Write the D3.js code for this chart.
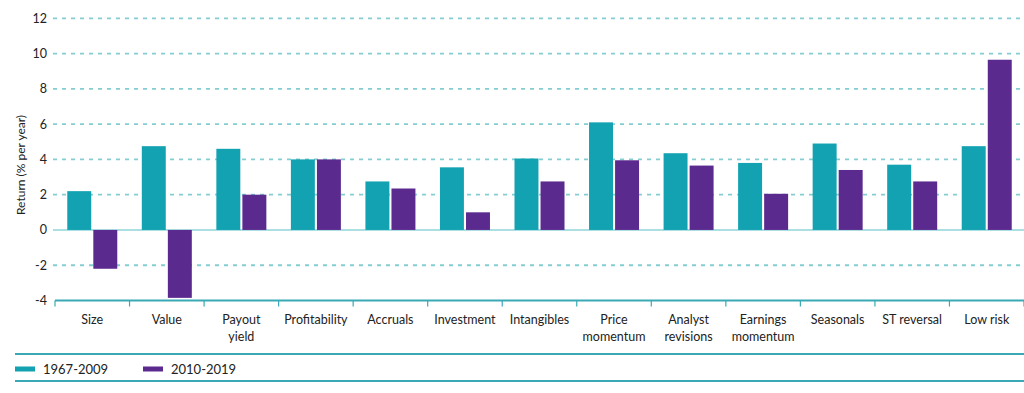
<!DOCTYPE html>
<html><head><meta charset="utf-8">
<script src="https://cdn.jsdelivr.net/npm/d3@7"></script>
<style>
html,body{margin:0;padding:0;background:#fff;}
svg{display:block;font-family:Lato,"Liberation Sans",sans-serif;}
</style></head>
<body><svg id="c" width="1024" height="393"></svg>
<script>
const categories = [["Size"],["Value"],["Payout","yield"],["Profitability"],["Accruals"],["Investment"],["Intangibles"],["Price","momentum"],["Analyst","revisions"],["Earnings","momentum"],["Seasonals"],["ST reversal"],["Low risk"]];
const seriesNames = ["1967-2009","2010-2019"];
const values1967 = [2.2,4.75,4.6,4.0,2.75,3.55,4.05,6.1,4.35,3.8,4.9,3.7,4.75];
const values2010 = [-2.2,-3.85,2.0,4.0,2.35,1.0,2.75,3.95,3.65,2.05,3.4,2.75,9.65];
const yTicks = [-4,-2,0,2,4,6,8,10,12];
const colors = ["#12a2b1","#5b2a8e"];

const svg = d3.select("#c");
const catKeys = categories.map(c=>c.join(" "));
const x0 = d3.scaleBand().domain(catKeys).range([55,1024]).paddingInner(0).paddingOuter(0);
const bw = x0.bandwidth();
const gw = 50;
const x1 = d3.scaleBand().domain(seriesNames).range([(bw-gw)/2,(bw+gw)/2]).paddingInner(0.08);
const y = d3.scaleLinear().domain([-4,12]).range([300.5,18.3]);

// gridlines
const grid = svg.append("g");
yTicks.forEach(t=>{
  if(t===-4) return;
  grid.append("line").attr("x1",53).attr("x2",1024).attr("y1",y(t)).attr("y2",y(t))
    .attr("stroke", t===0 ? "#8fd4d8" : "#84cdd1")
    .attr("stroke-width", t===0 ? 1.5 : 1.8)
    .attr("stroke-dasharray", t===0 ? null : "4,5");
});

// y axis labels
const yAxis = d3.axisLeft(y).tickValues(yTicks).tickSize(0).tickPadding(0).tickFormat(d=>d);
const ya = svg.append("g").attr("transform","translate(47,0)").call(yAxis);
ya.select(".domain").remove();
ya.selectAll("text").attr("font-size",12.5).attr("fill","#222").attr("font-family","Lato,sans-serif");

svg.append("text").attr("transform","translate(25,165) rotate(-90)")
  .attr("text-anchor","middle").attr("font-size",12).attr("fill","#222")
  .text("Return (% per year)");

// bars
const data = catKeys.map((k,i)=>({k, vals:[values1967[i], values2010[i]]}));
const groups = svg.append("g").selectAll("g").data(data).join("g")
  .attr("transform",d=>`translate(${x0(d.k)},0)`);
groups.selectAll("rect").data(d=>d.vals.map((v,j)=>({v,s:seriesNames[j],j}))).join("rect")
  .attr("x",d=>x1(d.s)).attr("width",x1.bandwidth())
  .attr("y",d=>y(Math.max(0,d.v))).attr("height",d=>Math.abs(y(d.v)-y(0)))
  .attr("fill",d=>colors[d.j]);

// x axis
const xAxisY = 300.5;
svg.append("line").attr("x1",55).attr("x2",1024).attr("y1",xAxisY).attr("y2",xAxisY)
  .attr("stroke","#3aa9b6").attr("stroke-width",2);
const bounds = catKeys.map(k=>x0(k)).concat([x0(catKeys[catKeys.length-1])+bw]);
bounds.forEach(b=>{
  svg.append("line").attr("x1",b).attr("x2",b).attr("y1",xAxisY).attr("y2",xAxisY+6)
    .attr("stroke","#3aa9b6").attr("stroke-width",1.2);
});
const lab = svg.append("g").selectAll("text").data(categories).join("text")
  .attr("x",(d,i)=>x0(catKeys[i])+bw/2).attr("y",324)
  .attr("text-anchor","middle").attr("font-size",12.5).attr("fill","#222");
lab.each(function(d){
  const t=d3.select(this);
  d.forEach((line,li)=>t.append("tspan").attr("x",t.attr("x")).attr("dy",li===0?0:17).text(line));
});

// legend
svg.append("line").attr("x1",15).attr("x2",1024).attr("y1",354).attr("y2",354).attr("stroke","#3aa9b6").attr("stroke-width",2);
svg.append("line").attr("x1",15).attr("x2",1024).attr("y1",381).attr("y2",381).attr("stroke","#3aa9b6").attr("stroke-width",2);
const legX = [15,143];
seriesNames.forEach((s,i)=>{
  svg.append("rect").attr("x",legX[i]).attr("y",366.5).attr("width",20).attr("height",5).attr("fill",colors[i]);
  svg.append("text").attr("x",legX[i]+28).attr("y",373.5).attr("font-size",13).attr("fill","#222").text(s);
});
</script></body></html>
